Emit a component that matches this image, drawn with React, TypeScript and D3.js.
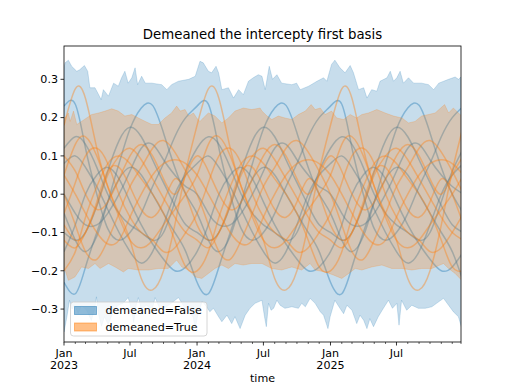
import React, { useEffect, useRef } from 'react'
import * as d3 from 'd3'

const W = 512
const H = 384
const margin = { top: 46, right: 51, bottom: 42, left: 64 }

const startDate = new Date(2023, 0, 1)
const endDate = new Date(2025, 11, 25)
const yearList = [2023, 2024, 2025]
const yTicks = [-0.3, -0.2, -0.1, 0, 0.1, 0.2, 0.3]
const yDomain = [-0.386, 0.387]
const title = 'Demeaned the intercepty first basis'
const legendLabels = ['demeaned=False', 'demeaned=True']

// band edges as [weeks since 2023-01-01, value]
const blueUpper: [number, number][] = [
  [0, 0.33], [0.4, 0.343], [1.7, 0.35], [3, 0.334], [5, 0.321], [6.2, 0.325], [8, 0.336], [9.3, 0.321],
  [10.2, 0.278], [12.2, 0.278], [13.5, 0.26], [14.5, 0.247], [15.4, 0.273], [17.4, 0.256], [19.4, 0.29],
  [21.3, 0.282], [22.6, 0.304], [23.9, 0.321], [25.2, 0.29], [26.5, 0.304], [27.8, 0.33], [28.9, 0.286],
  [30.4, 0.308], [31.8, 0.29], [34.4, 0.29], [38.3, 0.286], [40.3, 0.273], [42.2, 0.286], [44.8, 0.295],
  [48.8, 0.3], [51.4, 0.308], [53.3, 0.347], [54.6, 0.343], [56.6, 0.321], [57.9, 0.317], [59.5, 0.334],
  [60.5, 0.317], [61.8, 0.273], [64.4, 0.278], [66.4, 0.251], [68.4, 0.273], [70.3, 0.26], [72.3, 0.295],
  [74.2, 0.304], [76.2, 0.312], [77.5, 0.308], [78.8, 0.273], [80.4, 0.334], [81.7, 0.3], [83.4, 0.312],
  [85.3, 0.29], [89.3, 0.286], [91.2, 0.29], [92.5, 0.273], [95.8, 0.282], [99.1, 0.295], [101.7, 0.304],
  [103, 0.295], [104.9, 0.339], [106.2, 0.35], [108.2, 0.33], [110.2, 0.317], [112.1, 0.336], [113.4, 0.317],
  [115.4, 0.273], [117.4, 0.278], [118.7, 0.251], [120.6, 0.273], [122.6, 0.269], [123.9, 0.295],
  [126.5, 0.304], [127.8, 0.321], [129.1, 0.295], [130.4, 0.304], [131.7, 0.321], [133, 0.29],
  [135, 0.304], [137, 0.29], [140.2, 0.29], [142.8, 0.286], [144.8, 0.273], [146.8, 0.29], [150.7, 0.3],
  [153.3, 0.306], [154.6, 0.3], [155.6, 0.306],
]
const blueLower: [number, number][] = [
  [0, -0.36], [1.2, -0.32], [2.2, -0.277], [3.2, -0.3], [4.2, -0.29], [5.5, -0.312], [6.8, -0.29],
  [8.8, -0.303], [10.7, -0.33], [12, -0.3], [12.7, -0.268], [13.4, -0.31], [14.7, -0.345], [15.9, -0.32],
  [17.3, -0.34], [19.2, -0.31], [21.2, -0.29], [23.2, -0.285], [25.2, -0.27], [26.4, -0.3], [27.3, -0.335],
  [28.3, -0.29], [29.2, -0.27], [30.3, -0.3], [32.3, -0.29], [34.5, -0.3], [35.7, -0.27], [37.5, -0.3],
  [40.1, -0.294], [42, -0.285], [44.8, -0.27], [46.7, -0.29], [48.6, -0.307], [50.6, -0.32], [51.4, -0.351],
  [52.3, -0.32], [54.2, -0.28], [55.9, -0.294], [57.2, -0.307], [58.6, -0.298], [60.5, -0.32], [61.8, -0.333],
  [63.8, -0.316], [65.7, -0.338], [67, -0.32], [69, -0.351], [71, -0.316], [72.9, -0.298], [74.9, -0.285],
  [77.5, -0.277], [78.6, -0.32], [79.3, -0.346], [80.1, -0.285], [81.1, -0.303], [82.1, -0.298],
  [83.4, -0.277], [84.7, -0.29], [86.6, -0.298], [89.3, -0.294], [91.9, -0.298], [93.2, -0.285],
  [94.5, -0.294], [96.4, -0.272], [98.4, -0.285], [100.4, -0.307], [101.7, -0.316], [103.4, -0.351],
  [104.3, -0.32], [106.2, -0.277], [108.2, -0.298], [109.5, -0.312], [110.8, -0.29], [112.8, -0.303],
  [114.7, -0.338], [116, -0.316], [117.4, -0.329], [118.7, -0.351], [119.9, -0.325], [121.3, -0.346],
  [123.2, -0.32], [125.2, -0.298], [127.2, -0.277], [128.7, -0.298], [130.4, -0.285], [131.3, -0.342],
  [132.3, -0.277], [134.3, -0.303], [136.3, -0.29], [138.9, -0.298], [141.5, -0.298], [144.1, -0.294],
  [146, -0.285], [148.7, -0.272], [150.7, -0.29], [152.6, -0.307], [154.6, -0.32], [155.9, -0.35],
]
const orangeUpper: [number, number][] = [
  [0, 0.2], [0.4, 0.199], [1.7, 0.212], [2.4, 0.19], [3.7, 0.217], [5, 0.182], [6.9, 0.19], [8.9, 0.199],
  [10.9, 0.208], [13.5, 0.212], [16.1, 0.217], [18.7, 0.223], [21.3, 0.217], [23.9, 0.204], [26.5, 0.208],
  [29.2, 0.199], [31.8, 0.19], [34.4, 0.182], [37, 0.182], [39.6, 0.199], [42.2, 0.212], [44.2, 0.23],
  [45.5, 0.217], [47.4, 0.221], [48.8, 0.204], [50.7, 0.212], [52, 0.199], [53.3, 0.19], [54.6, 0.199],
  [56.6, 0.212], [59.2, 0.204], [61.8, 0.186], [64.4, 0.199], [67, 0.217], [70.3, 0.225], [73.6, 0.221],
  [76.8, 0.225], [77.5, 0.217], [79.5, 0.204], [81.4, 0.195], [84, 0.204], [86.6, 0.199], [89.3, 0.195],
  [91.9, 0.208], [94.5, 0.217], [96.8, 0.234], [98.4, 0.221], [100.4, 0.225], [102.3, 0.208], [104.9, 0.217],
  [106.9, 0.199], [109.5, 0.195], [112.1, 0.208], [114.7, 0.199], [116.7, 0.208], [119.3, 0.212],
  [122.6, 0.221], [125.8, 0.212], [129.1, 0.204], [132.4, 0.199], [135, 0.186], [137.6, 0.19],
  [140.2, 0.204], [142.8, 0.208], [145.4, 0.212], [149.1, 0.234], [150.7, 0.212], [152.6, 0.225],
  [154.6, 0.212], [155.9, 0.204],
]
const orangeLower: [number, number][] = [
  [0, -0.2], [0.4, -0.198], [1.7, -0.225], [4.3, -0.216], [6.9, -0.19], [9.6, -0.194], [12.2, -0.181],
  [14.1, -0.194], [17.4, -0.181], [20, -0.19], [23.3, -0.203], [25.2, -0.194], [29.2, -0.198], [33.1, -0.198],
  [37, -0.194], [40.9, -0.194], [44.2, -0.172], [46.1, -0.19], [48.8, -0.198], [51.4, -0.216], [54, -0.22],
  [56.6, -0.207], [59.2, -0.194], [61.8, -0.185], [64.4, -0.194], [67, -0.181], [70.3, -0.185],
  [73.6, -0.181], [77.5, -0.181], [81.4, -0.194], [85.3, -0.198], [89.3, -0.19], [93.2, -0.198],
  [96.4, -0.181], [98.4, -0.198], [102.3, -0.203], [105.6, -0.211], [108.9, -0.22], [111.5, -0.207],
  [114.1, -0.194], [116.7, -0.198], [120.6, -0.19], [124.5, -0.185], [128.4, -0.194], [132.4, -0.194],
  [136.3, -0.198], [140.2, -0.194], [144.1, -0.194], [148.7, -0.181], [150.7, -0.194], [153.3, -0.207],
  [155.9, -0.225],
]

// seasonal samples, value on the 1st of Jan..Dec, same every year
const blueLines: number[][] = [
  [0.23, 0.235, 0.12, 0.0, -0.09, -0.12, -0.1, -0.05, 0.02, 0.08, 0.15, 0.2],
  [-0.05, -0.12, -0.15, -0.11, -0.02, 0.08, 0.17, 0.225, 0.232, 0.16, 0.07, 0.0],
  [-0.1, -0.12, -0.1, -0.03, 0.06, 0.14, 0.175, 0.15, 0.09, 0.03, -0.03, -0.08],
  [0.0, -0.05, -0.08, -0.08, -0.05, 0.0, 0.06, 0.12, 0.13, 0.09, 0.05, 0.02],
  [-0.23, -0.26, -0.19, -0.1, -0.02, 0.04, 0.07, 0.05, 0.0, -0.05, -0.1, -0.15],
  [0.08, 0.1, 0.07, 0.02, -0.04, -0.1, -0.15, -0.18, -0.15, -0.08, 0.0, 0.05],
  [-0.15, -0.08, 0.0, 0.05, 0.07, 0.04, -0.02, -0.08, -0.13, -0.17, -0.2, -0.19],
  [0.12, 0.15, 0.13, 0.07, 0.0, -0.05, -0.08, -0.1, -0.12, -0.1, -0.02, 0.06],
]
const orangeLines: number[][] = [
  [0.18, 0.275, 0.25, 0.12, 0.02, -0.05, -0.12, -0.22, -0.25, -0.2, -0.08, 0.06],
  [0.05, 0.13, 0.15, 0.1, 0.02, -0.06, -0.12, -0.14, -0.12, -0.08, -0.04, 0.0],
  [-0.05, 0.03, 0.1, 0.12, 0.08, 0.0, -0.06, -0.1, -0.12, -0.15, -0.14, -0.1],
  [0.0, -0.08, -0.15, -0.17, -0.12, -0.05, 0.02, 0.07, 0.12, 0.14, 0.11, 0.06],
  [-0.12, -0.14, -0.1, -0.03, 0.05, 0.1, 0.12, 0.09, 0.04, -0.01, -0.06, -0.1],
  [-0.2, -0.15, -0.06, 0.02, 0.08, 0.1, 0.08, 0.04, 0.0, -0.05, -0.12, -0.19],
  [0.05, 0.0, -0.05, -0.1, -0.13, -0.12, -0.06, 0.0, 0.05, 0.08, 0.09, 0.08],
  [0.1, 0.06, 0.0, -0.04, -0.02, 0.04, 0.1, 0.13, 0.1, 0.04, 0.0, 0.05],
  [-0.08, -0.12, -0.1, -0.02, 0.06, 0.07, 0.02, -0.04, -0.06, -0.02, 0.04, 0.0],
]

const BLUE = '#1f77b4'
const ORANGE = '#ff7f0e'
const FONT = 'DejaVu Sans, sans-serif'

export default function App() {
  const svgRef = useRef<SVGSVGElement>(null)

  useEffect(() => {
    const svg = d3.select(svgRef.current)
    svg.selectAll('*').remove()

    const x0 = margin.left, x1 = W - margin.right
    const y0 = margin.top, y1 = H - margin.bottom

    const x = d3.scaleTime().domain([startDate, endDate]).range([x0, x1])
    const y = d3.scaleLinear().domain(yDomain).range([y1, y0])
    const weekDate = (w: number) => d3.timeDay.offset(startDate, Math.round(w * 7))

    svg.append('defs').append('clipPath').attr('id', 'plotclip')
      .append('rect').attr('x', x0).attr('y', y0).attr('width', x1 - x0).attr('height', y1 - y0)

    const plot = svg.append('g').attr('clip-path', 'url(#plotclip)')

    const edge = d3.line<[number, number]>().x(d => x(weekDate(d[0]))).y(d => y(d[1]))
    const band = (up: [number, number][], lo: [number, number][], color: string) => {
      const pts = [...up, ...lo.slice().reverse()]
      plot.append('path').attr('d', edge(pts) + 'Z')
        .attr('fill', color).attr('fill-opacity', 0.25)
        .attr('stroke', color).attr('stroke-opacity', 0.25).attr('stroke-width', 0.8)
    }

    // repeat the seasonal samples over each year
    const tile = (vals: number[]) => {
      const pts: [Date, number][] = []
      yearList.forEach(yr => vals.forEach((v, m) => pts.push([new Date(yr, m, 1), v])))
      pts.push([new Date(2026, 0, 1), vals[0]])
      return pts
    }
    const seasonal = d3.line<[Date, number]>().x(d => x(d[0])).y(d => y(d[1])).curve(d3.curveNatural)
    const lines = (set: number[][], color: string) => {
      set.forEach(vals => {
        plot.append('path').attr('d', seasonal(tile(vals)))
          .attr('fill', 'none').attr('stroke', color).attr('stroke-opacity', 0.4).attr('stroke-width', 1.5)
      })
    }

    band(blueUpper, blueLower, BLUE)
    lines(blueLines, BLUE)
    band(orangeUpper, orangeLower, ORANGE)
    lines(orangeLines, ORANGE)

    // y axis
    const fmt = d3.format('.1f')
    const ya = svg.append('g')
    yTicks.forEach(t => {
      ya.append('line').attr('x1', x0 - 3.5).attr('x2', x0).attr('y1', y(t)).attr('y2', y(t))
        .attr('stroke', '#000').attr('stroke-width', 0.8)
      ya.append('text').attr('x', x0 - 6).attr('y', y(t)).attr('dy', '0.35em')
        .attr('text-anchor', 'end').attr('font-size', 11.1).attr('font-family', FONT).text(fmt(t))
    })

    // x axis: monthly minor ticks, Jan/Jul major
    const xa = svg.append('g')
    d3.timeMonth.range(startDate, endDate).forEach(d => {
      const major = d.getMonth() === 0 || d.getMonth() === 6
      xa.append('line').attr('x1', x(d)).attr('x2', x(d)).attr('y1', y1).attr('y2', y1 + (major ? 3.5 : 2))
        .attr('stroke', '#000').attr('stroke-width', major ? 0.8 : 0.6)
      if (major) {
        const lbl = xa.append('text').attr('x', x(d)).attr('y', y1 + 15).attr('text-anchor', 'middle')
          .attr('font-size', 11.1).attr('font-family', FONT)
        lbl.append('tspan').attr('x', x(d)).text(d3.timeFormat('%b')(d))
        if (d.getMonth() === 0) lbl.append('tspan').attr('x', x(d)).attr('dy', 11.5).text(d.getFullYear())
      }
    })
    xa.append('line').attr('x1', x1).attr('x2', x1).attr('y1', y1).attr('y2', y1 + 2)
      .attr('stroke', '#000').attr('stroke-width', 0.6)

    svg.append('rect').attr('x', x0).attr('y', y0).attr('width', x1 - x0).attr('height', y1 - y0)
      .attr('fill', 'none').attr('stroke', '#000').attr('stroke-width', 0.8)

    svg.append('text').attr('x', (x0 + x1) / 2).attr('y', y1 + 40).attr('text-anchor', 'middle')
      .attr('font-size', 11.1).attr('font-family', FONT).text('time')
    svg.append('text').attr('x', (x0 + x1) / 2).attr('y', y0 - 7).attr('text-anchor', 'middle')
      .attr('font-size', 13.3).attr('font-family', FONT).text(title)

    // legend
    const lg = svg.append('g').attr('transform', `translate(${x0 + 6.5},${302})`)
    lg.append('rect').attr('width', 136.5).attr('height', 34).attr('rx', 3)
      .attr('fill', '#fff').attr('fill-opacity', 0.8).attr('stroke', '#cccccc').attr('stroke-width', 0.8)
    ;[BLUE, ORANGE].forEach((c, i) => {
      const cy = 8.5 + i * 16.5
      lg.append('rect').attr('x', 4).attr('y', cy - 4).attr('width', 22).attr('height', 8)
        .attr('fill', c).attr('fill-opacity', 0.5).attr('stroke', c).attr('stroke-opacity', 0.5)
      lg.append('text').attr('x', 35).attr('y', cy).attr('dy', '0.35em')
        .attr('font-size', 11.1).attr('font-family', FONT).text(legendLabels[i])
    })
  }, [])

  return (
    <svg ref={svgRef} width={W} height={H} style={{ position: 'absolute', left: 0, top: 0, background: '#fff' }} />
  )
}
